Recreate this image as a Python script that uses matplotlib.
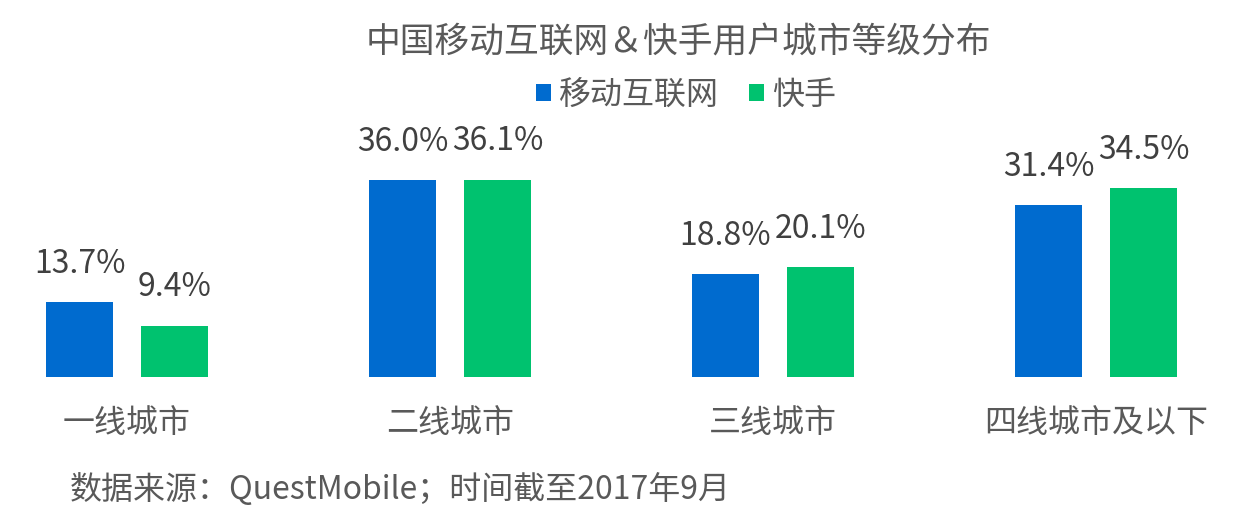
import numpy as np
import matplotlib.pyplot as plt

plt.rcParams['font.family'] = ['Noto Sans CJK SC', 'DejaVu Sans']

# data
categories = ['一线城市', '二线城市', '三线城市', '四线城市及以下']
mobile_internet = [13.7, 36.0, 18.8, 31.4]
kuaishou = [9.4, 36.1, 20.1, 34.5]
series_names = ['移动互联网', '快手']

blue = '#006BCF'
green = '#00C26F'
grey = '#595959'

fig = plt.figure(figsize=(12.33, 5.31), dpi=100)
# axes: baseline at y=377px, top at 100px
ax = fig.add_axes([0, 1 - 377 / 531, 1, 277 / 531])

x = np.arange(len(categories))
width = 0.207
offset = 0.147
b1 = ax.bar(x - offset, mobile_internet, width, color=blue, label=series_names[0])
b2 = ax.bar(x + offset, kuaishou, width, color=green, label=series_names[1])

for bars, vals in [(b1, mobile_internet), (b2, kuaishou)]:
    for rect, v in zip(bars, vals):
        ax.annotate(f'{v:.1f}%', (rect.get_x() + rect.get_width() / 2, v),
                    xytext=(0, 21), textcoords='offset points',
                    ha='center', va='baseline', fontsize=23, color='#404040')

ax.set_xlim((0 - 127) / 323, (1233 - 127) / 323)
ax.set_ylim(0, 277 / 5.47)
ax.axis('off')

for xi, c in zip(x, categories):
    ax.text(xi, -46 / 5.47, c, ha='center', va='center', fontsize=23, color=grey)

fig.text(678 / 1233, 1 - 43 / 531, '中国移动互联网＆快手用户城市等级分布',
         ha='center', va='center', fontsize=25, color=grey)

leg = fig.legend(handles=[b1, b2], loc='center', bbox_to_anchor=(686 / 1233, 1 - 95 / 531),
                 ncol=2, frameon=False, fontsize=23, handlelength=0.47, handleheight=0.47,
                 handletextpad=0.25, columnspacing=0.95, borderpad=0, borderaxespad=0)
for t in leg.get_texts():
    t.set_color(grey)

fig.text(70 / 1233, 1 - 490 / 531, '数据来源：QuestMobile；时间截至2017年9月',
         ha='left', va='center', fontsize=23, color=grey)

fig.savefig('out.png', dpi=100)
